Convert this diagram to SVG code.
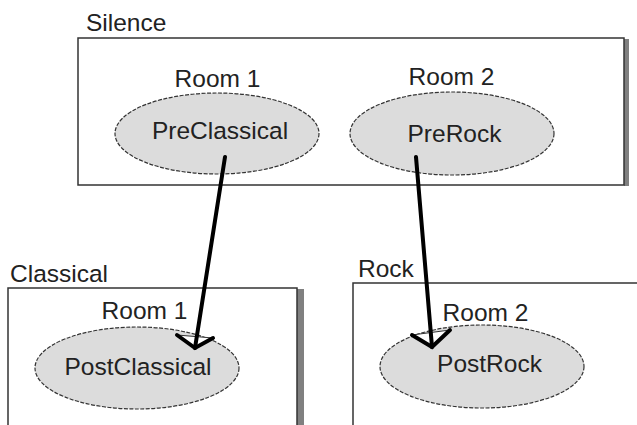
<svg xmlns="http://www.w3.org/2000/svg" width="637" height="425" viewBox="0 0 637 425">
<style>
text{font-family:"Liberation Sans",Arial,sans-serif;font-size:24.5px;fill:#222}
.box{fill:#fff;stroke:#333;stroke-width:1.5}
.shadow{fill:#808080}
.node{fill:#dcdcdc;stroke:#333;stroke-width:1.2;stroke-dasharray:4 1.5}
.conn{fill:none;stroke:#000;stroke-width:4;stroke-linecap:round;stroke-linejoin:miter}
.head{fill:#fff;stroke:#333;stroke-width:1}
.c{text-anchor:middle}
</style>
<rect width="637" height="425" fill="#fff"/>
<g id="silence">
<rect class="shadow" x="624" y="39" width="5" height="147"/>
<rect class="box" x="78" y="38" width="546" height="147"/>
<text x="86" y="31">Silence</text>
</g>
<g id="classical">
<rect class="shadow" x="297" y="289" width="7" height="140"/>
<rect class="box" x="8" y="288" width="289" height="145"/>
<text x="10" y="282">Classical</text>
</g>
<g id="rock">
<rect class="box" x="353" y="283" width="300" height="150"/>
<text x="358" y="277">Rock</text>
</g>
<g id="preclassical">
<text class="c" x="217.5" y="87">Room 1</text>
<ellipse class="node" cx="217" cy="133.5" rx="102" ry="40.5"/>
<text class="c" x="220" y="139">PreClassical</text>
</g>
<g id="prerock">
<text class="c" x="451.5" y="85">Room 2</text>
<ellipse class="node" cx="452" cy="133.5" rx="102" ry="41.5"/>
<text class="c" x="454.5" y="142">PreRock</text>
</g>
<g id="postclassical">
<text class="c" x="144.5" y="319">Room 1</text>
<ellipse class="node" cx="137" cy="368" rx="102" ry="41"/>
<text class="c" x="138" y="375">PostClassical</text>
</g>
<g id="postrock">
<text class="c" x="485.5" y="321">Room 2</text>
<ellipse class="node" cx="482" cy="366.5" rx="102" ry="41.5"/>
<text class="c" x="489.5" y="372">PostRock</text>
</g>
<g id="connectors">
<polygon class="head" points="177,335 195,348 213,338"/>
<line class="conn" x1="225" y1="157" x2="195" y2="348"/>
<polyline class="conn" points="177,335 195,348 213,338"/>
<polygon class="head" points="412,335 432,347 450,330"/>
<line class="conn" x1="416" y1="157" x2="432" y2="347"/>
<polyline class="conn" points="412,335 432,347 450,330"/>
</g>
</svg>
